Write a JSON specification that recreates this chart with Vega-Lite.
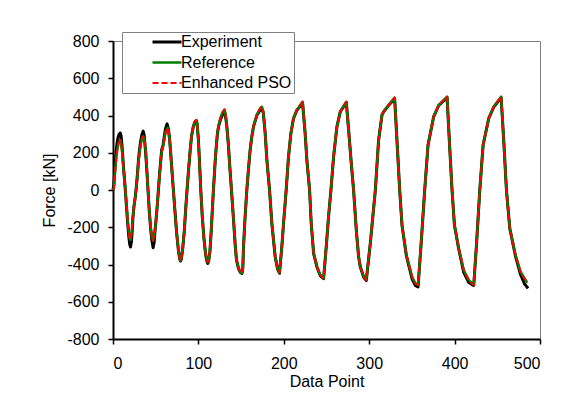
{
  "$schema": "https://vega.github.io/schema/vega-lite/v6.json",
  "width": 427,
  "height": 298,
  "autosize": {"type": "none"},
  "padding": {"left": 113, "top": 41, "right": 36, "bottom": 73},
  "background": "white",
  "config": {
    "view": {"stroke": "#808080", "strokeWidth": 1},
    "axis": {
      "labelFont": "Liberation Sans", "titleFont": "Liberation Sans",
      "labelFontSize": 16, "titleFontSize": 16,
      "labelColor": "black", "titleColor": "black", "titleFontWeight": "normal",
      "domainColor": "black", "domainWidth": 2,
      "tickColor": "black", "tickWidth": 1.5, "tickSize": 5, "grid": false
    },
    "legend": {
      "labelFont": "Liberation Sans", "labelFontSize": 16, "labelColor": "black"
    }
  },
  "data": {"values": [
    {"s":"Experiment","x":0,"y":0},{"s":"Experiment","x":1,"y":30},{"s":"Experiment","x":2,"y":100},{"s":"Experiment","x":3,"y":170},{"s":"Experiment","x":4,"y":220},{"s":"Experiment","x":5,"y":258},{"s":"Experiment","x":6,"y":283},{"s":"Experiment","x":7,"y":298},{"s":"Experiment","x":8.5,"y":306},{"s":"Experiment","x":9.5,"y":290},{"s":"Experiment","x":10.5,"y":240},{"s":"Experiment","x":11.5,"y":175},{"s":"Experiment","x":12.5,"y":110},{"s":"Experiment","x":13.5,"y":55},{"s":"Experiment","x":14.5,"y":-5},{"s":"Experiment","x":15.5,"y":-70},{"s":"Experiment","x":16.5,"y":-135},{"s":"Experiment","x":17.5,"y":-195},{"s":"Experiment","x":18.5,"y":-250},{"s":"Experiment","x":19.5,"y":-290},{"s":"Experiment","x":20.5,"y":-306},{"s":"Experiment","x":21.5,"y":-280},{"s":"Experiment","x":22.5,"y":-220},{"s":"Experiment","x":23.3,"y":-150},{"s":"Experiment","x":24.5,"y":-90},{"s":"Experiment","x":26,"y":-40},{"s":"Experiment","x":27.3,"y":15},{"s":"Experiment","x":28.5,"y":80},{"s":"Experiment","x":30,"y":170},{"s":"Experiment","x":31.3,"y":225},{"s":"Experiment","x":32.5,"y":265},{"s":"Experiment","x":34,"y":300},{"s":"Experiment","x":35.3,"y":316},{"s":"Experiment","x":36.5,"y":295},{"s":"Experiment","x":38,"y":215},{"s":"Experiment","x":40,"y":80},{"s":"Experiment","x":41,"y":0},{"s":"Experiment","x":42.5,"y":-115},{"s":"Experiment","x":44,"y":-205},{"s":"Experiment","x":45.5,"y":-270},{"s":"Experiment","x":47,"y":-310},{"s":"Experiment","x":48.2,"y":-280},{"s":"Experiment","x":49,"y":-230},{"s":"Experiment","x":50,"y":-180},{"s":"Experiment","x":51.2,"y":-120},{"s":"Experiment","x":52.3,"y":-54},{"s":"Experiment","x":54.5,"y":85},{"s":"Experiment","x":57,"y":215},{"s":"Experiment","x":58.6,"y":240},{"s":"Experiment","x":60,"y":285},{"s":"Experiment","x":61.5,"y":330},{"s":"Experiment","x":63.3,"y":355},{"s":"Experiment","x":65,"y":325},{"s":"Experiment","x":66.5,"y":262},{"s":"Experiment","x":68,"y":170},{"s":"Experiment","x":69.5,"y":75},{"s":"Experiment","x":70.7,"y":0},{"s":"Experiment","x":72.5,"y":-110},{"s":"Experiment","x":74.5,"y":-230},{"s":"Experiment","x":76.5,"y":-320},{"s":"Experiment","x":78,"y":-368},{"s":"Experiment","x":79,"y":-381},{"s":"Experiment","x":80,"y":-372},{"s":"Experiment","x":81.5,"y":-320},{"s":"Experiment","x":83.5,"y":-220},{"s":"Experiment","x":85,"y":-110},{"s":"Experiment","x":86.7,"y":0},{"s":"Experiment","x":88.5,"y":110},{"s":"Experiment","x":90.5,"y":220},{"s":"Experiment","x":92,"y":290},{"s":"Experiment","x":94,"y":340},{"s":"Experiment","x":96,"y":366},{"s":"Experiment","x":97.5,"y":372},{"s":"Experiment","x":98.5,"y":356},{"s":"Experiment","x":100,"y":270},{"s":"Experiment","x":101.5,"y":130},{"s":"Experiment","x":102.8,"y":0},{"s":"Experiment","x":104.5,"y":-140},{"s":"Experiment","x":106.5,"y":-260},{"s":"Experiment","x":108.5,"y":-348},{"s":"Experiment","x":110,"y":-383},{"s":"Experiment","x":111,"y":-394},{"s":"Experiment","x":112,"y":-382},{"s":"Experiment","x":113.5,"y":-330},{"s":"Experiment","x":115,"y":-220},{"s":"Experiment","x":117.6,"y":0},{"s":"Experiment","x":120,"y":180},{"s":"Experiment","x":122,"y":290},{"s":"Experiment","x":123.5,"y":340},{"s":"Experiment","x":126,"y":380},{"s":"Experiment","x":128,"y":402},{"s":"Experiment","x":130.5,"y":418},{"s":"Experiment","x":131.5,"y":405},{"s":"Experiment","x":133,"y":355},{"s":"Experiment","x":135,"y":250},{"s":"Experiment","x":137,"y":110},{"s":"Experiment","x":138.7,"y":0},{"s":"Experiment","x":141,"y":-150},{"s":"Experiment","x":143,"y":-290},{"s":"Experiment","x":144.6,"y":-376},{"s":"Experiment","x":147,"y":-422},{"s":"Experiment","x":149,"y":-442},{"s":"Experiment","x":151,"y":-448},{"s":"Experiment","x":152,"y":-420},{"s":"Experiment","x":152.8,"y":-304},{"s":"Experiment","x":154.7,"y":-143},{"s":"Experiment","x":156.7,"y":0},{"s":"Experiment","x":158.6,"y":110},{"s":"Experiment","x":160.6,"y":215},{"s":"Experiment","x":162.5,"y":285},{"s":"Experiment","x":164.5,"y":340},{"s":"Experiment","x":168.4,"y":400},{"s":"Experiment","x":172.3,"y":430},{"s":"Experiment","x":174.3,"y":438},{"s":"Experiment","x":176,"y":415},{"s":"Experiment","x":178.2,"y":304},{"s":"Experiment","x":180.2,"y":161},{"s":"Experiment","x":183.3,"y":0},{"s":"Experiment","x":186,"y":-179},{"s":"Experiment","x":189.9,"y":-358},{"s":"Experiment","x":192.6,"y":-422},{"s":"Experiment","x":195,"y":-447},{"s":"Experiment","x":197.7,"y":-304},{"s":"Experiment","x":199.7,"y":-179},{"s":"Experiment","x":202.8,"y":0},{"s":"Experiment","x":205.5,"y":179},{"s":"Experiment","x":208.3,"y":304},{"s":"Experiment","x":211.4,"y":385},{"s":"Experiment","x":215.3,"y":428},{"s":"Experiment","x":222,"y":466},{"s":"Experiment","x":225,"y":304},{"s":"Experiment","x":227,"y":161},{"s":"Experiment","x":230.2,"y":0},{"s":"Experiment","x":232.1,"y":-179},{"s":"Experiment","x":234.9,"y":-340},{"s":"Experiment","x":238.8,"y":-413},{"s":"Experiment","x":242.7,"y":-460},{"s":"Experiment","x":246.6,"y":-476},{"s":"Experiment","x":249.7,"y":-304},{"s":"Experiment","x":252.4,"y":-143},{"s":"Experiment","x":255.2,"y":0},{"s":"Experiment","x":258.3,"y":179},{"s":"Experiment","x":262.2,"y":340},{"s":"Experiment","x":266.1,"y":420},{"s":"Experiment","x":273.2,"y":470},{"s":"Experiment","x":275.9,"y":322},{"s":"Experiment","x":278.7,"y":161},{"s":"Experiment","x":281.7,"y":0},{"s":"Experiment","x":284.9,"y":-215},{"s":"Experiment","x":287.6,"y":-358},{"s":"Experiment","x":289.6,"y":-413},{"s":"Experiment","x":293.5,"y":-468},{"s":"Experiment","x":296.6,"y":-486},{"s":"Experiment","x":301.3,"y":-286},{"s":"Experiment","x":307.2,"y":0},{"s":"Experiment","x":311,"y":268},{"s":"Experiment","x":315,"y":403},{"s":"Experiment","x":316.9,"y":420},{"s":"Experiment","x":322.7,"y":454},{"s":"Experiment","x":329.8,"y":490},{"s":"Experiment","x":332.6,"y":260},{"s":"Experiment","x":335.7,"y":0},{"s":"Experiment","x":338.4,"y":-188},{"s":"Experiment","x":343.5,"y":-352},{"s":"Experiment","x":350.2,"y":-477},{"s":"Experiment","x":354,"y":-512},{"s":"Experiment","x":357.2,"y":-521},{"s":"Experiment","x":360.7,"y":-295},{"s":"Experiment","x":365,"y":0},{"s":"Experiment","x":368.9,"y":242},{"s":"Experiment","x":375.5,"y":394},{"s":"Experiment","x":381.4,"y":454},{"s":"Experiment","x":391.2,"y":496},{"s":"Experiment","x":393.9,"y":260},{"s":"Experiment","x":397,"y":0},{"s":"Experiment","x":399.8,"y":-188},{"s":"Experiment","x":404.8,"y":-316},{"s":"Experiment","x":410.7,"y":-442},{"s":"Experiment","x":416.5,"y":-496},{"s":"Experiment","x":422.4,"y":-513},{"s":"Experiment","x":425.6,"y":-295},{"s":"Experiment","x":429.5,"y":0},{"s":"Experiment","x":433.4,"y":242},{"s":"Experiment","x":440,"y":385},{"s":"Experiment","x":445.8,"y":445},{"s":"Experiment","x":454.5,"y":496},{"s":"Experiment","x":457.6,"y":260},{"s":"Experiment","x":460.7,"y":0},{"s":"Experiment","x":464.6,"y":-206},{"s":"Experiment","x":471.3,"y":-355},{"s":"Experiment","x":477.1,"y":-452},{"s":"Experiment","x":482,"y":-505},{"s":"Experiment","x":486,"y":-528},

    {"s":"Reference","x":0,"y":0},{"s":"Reference","x":1,"y":10},{"s":"Reference","x":2,"y":70},{"s":"Reference","x":3,"y":130},{"s":"Reference","x":4,"y":180},{"s":"Reference","x":5,"y":215},{"s":"Reference","x":6,"y":240},{"s":"Reference","x":7,"y":258},{"s":"Reference","x":8.5,"y":268},{"s":"Reference","x":9.5,"y":255},{"s":"Reference","x":10.5,"y":215},{"s":"Reference","x":11.5,"y":160},{"s":"Reference","x":12.5,"y":105},{"s":"Reference","x":13.5,"y":55},{"s":"Reference","x":14.5,"y":0},{"s":"Reference","x":15.5,"y":-60},{"s":"Reference","x":16.5,"y":-120},{"s":"Reference","x":17.5,"y":-175},{"s":"Reference","x":18.5,"y":-225},{"s":"Reference","x":19.5,"y":-258},{"s":"Reference","x":20.5,"y":-268},{"s":"Reference","x":22,"y":-225},{"s":"Reference","x":23.3,"y":-150},{"s":"Reference","x":24.5,"y":-90},{"s":"Reference","x":26,"y":-40},{"s":"Reference","x":27.3,"y":10},{"s":"Reference","x":28.5,"y":70},{"s":"Reference","x":30,"y":160},{"s":"Reference","x":31.3,"y":210},{"s":"Reference","x":32.5,"y":245},{"s":"Reference","x":34,"y":278},{"s":"Reference","x":35.5,"y":288},{"s":"Reference","x":37,"y":265},{"s":"Reference","x":38.5,"y":200},{"s":"Reference","x":40,"y":80},{"s":"Reference","x":41,"y":0},{"s":"Reference","x":42.5,"y":-110},{"s":"Reference","x":44,"y":-195},{"s":"Reference","x":45.5,"y":-250},{"s":"Reference","x":47,"y":-272},{"s":"Reference","x":48.5,"y":-240},{"s":"Reference","x":50,"y":-180},{"s":"Reference","x":51.2,"y":-120},{"s":"Reference","x":52.3,"y":-54},{"s":"Reference","x":54.5,"y":80},{"s":"Reference","x":57,"y":205},{"s":"Reference","x":58.6,"y":235},{"s":"Reference","x":60,"y":270},{"s":"Reference","x":61.5,"y":310},{"s":"Reference","x":64,"y":335},{"s":"Reference","x":65,"y":320},{"s":"Reference","x":66.5,"y":260},{"s":"Reference","x":68,"y":170},{"s":"Reference","x":69.5,"y":75},{"s":"Reference","x":70.7,"y":0},{"s":"Reference","x":72.5,"y":-110},{"s":"Reference","x":74.5,"y":-230},{"s":"Reference","x":76.5,"y":-320},{"s":"Reference","x":78,"y":-365},{"s":"Reference","x":79,"y":-378},{"s":"Reference","x":80,"y":-370},{"s":"Reference","x":81.5,"y":-320},{"s":"Reference","x":83.5,"y":-220},{"s":"Reference","x":85,"y":-110},{"s":"Reference","x":86.7,"y":0},{"s":"Reference","x":88.5,"y":110},{"s":"Reference","x":90.5,"y":220},{"s":"Reference","x":92,"y":290},{"s":"Reference","x":94,"y":340},{"s":"Reference","x":96,"y":368},{"s":"Reference","x":97.5,"y":376},{"s":"Reference","x":98.5,"y":360},{"s":"Reference","x":100,"y":270},{"s":"Reference","x":101.5,"y":130},{"s":"Reference","x":102.8,"y":0},{"s":"Reference","x":104.5,"y":-140},{"s":"Reference","x":106.5,"y":-260},{"s":"Reference","x":108.5,"y":-345},{"s":"Reference","x":110,"y":-378},{"s":"Reference","x":111,"y":-388},{"s":"Reference","x":112,"y":-380},{"s":"Reference","x":113.5,"y":-330},{"s":"Reference","x":115,"y":-220},{"s":"Reference","x":117.6,"y":0},{"s":"Reference","x":120,"y":180},{"s":"Reference","x":122,"y":290},{"s":"Reference","x":123.5,"y":345},{"s":"Reference","x":126,"y":390},{"s":"Reference","x":128,"y":415},{"s":"Reference","x":130.5,"y":432},{"s":"Reference","x":131.5,"y":415},{"s":"Reference","x":133,"y":360},{"s":"Reference","x":135,"y":250},{"s":"Reference","x":137,"y":110},{"s":"Reference","x":138.7,"y":0},{"s":"Reference","x":141,"y":-150},{"s":"Reference","x":143,"y":-290},{"s":"Reference","x":144.6,"y":-376},{"s":"Reference","x":147,"y":-420},{"s":"Reference","x":149,"y":-440},{"s":"Reference","x":151,"y":-447},{"s":"Reference","x":152,"y":-420},{"s":"Reference","x":152.8,"y":-304},{"s":"Reference","x":154.7,"y":-143},{"s":"Reference","x":156.7,"y":0},{"s":"Reference","x":158.6,"y":110},{"s":"Reference","x":160.6,"y":215},{"s":"Reference","x":162.5,"y":285},{"s":"Reference","x":164.5,"y":340},{"s":"Reference","x":168.4,"y":403},{"s":"Reference","x":172.3,"y":438},{"s":"Reference","x":174.3,"y":447},{"s":"Reference","x":176,"y":420},{"s":"Reference","x":178.2,"y":304},{"s":"Reference","x":180.2,"y":161},{"s":"Reference","x":183.3,"y":0},{"s":"Reference","x":186,"y":-179},{"s":"Reference","x":189.9,"y":-358},{"s":"Reference","x":192.6,"y":-420},{"s":"Reference","x":195,"y":-444},{"s":"Reference","x":197.7,"y":-304},{"s":"Reference","x":199.7,"y":-179},{"s":"Reference","x":202.8,"y":0},{"s":"Reference","x":205.5,"y":179},{"s":"Reference","x":208.3,"y":304},{"s":"Reference","x":211.4,"y":385},{"s":"Reference","x":215.3,"y":430},{"s":"Reference","x":222,"y":474},{"s":"Reference","x":225,"y":304},{"s":"Reference","x":227,"y":161},{"s":"Reference","x":230.2,"y":0},{"s":"Reference","x":232.1,"y":-179},{"s":"Reference","x":234.9,"y":-340},{"s":"Reference","x":238.8,"y":-411},{"s":"Reference","x":242.7,"y":-456},{"s":"Reference","x":246.6,"y":-474},{"s":"Reference","x":249.7,"y":-304},{"s":"Reference","x":252.4,"y":-143},{"s":"Reference","x":255.2,"y":0},{"s":"Reference","x":258.3,"y":179},{"s":"Reference","x":262.2,"y":340},{"s":"Reference","x":266.1,"y":420},{"s":"Reference","x":273.2,"y":474},{"s":"Reference","x":275.9,"y":322},{"s":"Reference","x":278.7,"y":161},{"s":"Reference","x":281.7,"y":0},{"s":"Reference","x":284.9,"y":-215},{"s":"Reference","x":287.6,"y":-358},{"s":"Reference","x":289.6,"y":-411},{"s":"Reference","x":293.5,"y":-465},{"s":"Reference","x":296.6,"y":-483},{"s":"Reference","x":301.3,"y":-286},{"s":"Reference","x":307.2,"y":0},{"s":"Reference","x":311,"y":268},{"s":"Reference","x":315,"y":403},{"s":"Reference","x":316.9,"y":420},{"s":"Reference","x":322.7,"y":456},{"s":"Reference","x":329.8,"y":496},{"s":"Reference","x":332.6,"y":260},{"s":"Reference","x":335.7,"y":0},{"s":"Reference","x":338.4,"y":-188},{"s":"Reference","x":343.5,"y":-349},{"s":"Reference","x":350.2,"y":-465},{"s":"Reference","x":354,"y":-501},{"s":"Reference","x":357.2,"y":-510},{"s":"Reference","x":360.7,"y":-295},{"s":"Reference","x":365,"y":0},{"s":"Reference","x":368.9,"y":242},{"s":"Reference","x":375.5,"y":394},{"s":"Reference","x":381.4,"y":456},{"s":"Reference","x":391.2,"y":501},{"s":"Reference","x":393.9,"y":260},{"s":"Reference","x":397,"y":0},{"s":"Reference","x":399.8,"y":-188},{"s":"Reference","x":404.8,"y":-313},{"s":"Reference","x":410.7,"y":-430},{"s":"Reference","x":416.5,"y":-483},{"s":"Reference","x":422.4,"y":-510},{"s":"Reference","x":425.6,"y":-295},{"s":"Reference","x":429.5,"y":0},{"s":"Reference","x":433.4,"y":242},{"s":"Reference","x":440,"y":385},{"s":"Reference","x":445.8,"y":447},{"s":"Reference","x":454.5,"y":501},{"s":"Reference","x":457.6,"y":260},{"s":"Reference","x":460.7,"y":0},{"s":"Reference","x":464.6,"y":-206},{"s":"Reference","x":471.3,"y":-349},{"s":"Reference","x":477.1,"y":-438},{"s":"Reference","x":485,"y":-497},

    {"s":"Enhanced PSO","x":0,"y":0},{"s":"Enhanced PSO","x":1,"y":10},{"s":"Enhanced PSO","x":2,"y":70},{"s":"Enhanced PSO","x":3,"y":130},{"s":"Enhanced PSO","x":4,"y":180},{"s":"Enhanced PSO","x":5,"y":215},{"s":"Enhanced PSO","x":6,"y":240},{"s":"Enhanced PSO","x":7,"y":258},{"s":"Enhanced PSO","x":8.5,"y":268},{"s":"Enhanced PSO","x":9.5,"y":255},{"s":"Enhanced PSO","x":10.5,"y":215},{"s":"Enhanced PSO","x":11.5,"y":160},{"s":"Enhanced PSO","x":12.5,"y":105},{"s":"Enhanced PSO","x":13.5,"y":55},{"s":"Enhanced PSO","x":14.5,"y":0},{"s":"Enhanced PSO","x":15.5,"y":-60},{"s":"Enhanced PSO","x":16.5,"y":-120},{"s":"Enhanced PSO","x":17.5,"y":-175},{"s":"Enhanced PSO","x":18.5,"y":-225},{"s":"Enhanced PSO","x":19.5,"y":-258},{"s":"Enhanced PSO","x":20.5,"y":-268},{"s":"Enhanced PSO","x":22,"y":-225},{"s":"Enhanced PSO","x":23.3,"y":-150},{"s":"Enhanced PSO","x":24.5,"y":-90},{"s":"Enhanced PSO","x":26,"y":-40},{"s":"Enhanced PSO","x":27.3,"y":10},{"s":"Enhanced PSO","x":28.5,"y":70},{"s":"Enhanced PSO","x":30,"y":160},{"s":"Enhanced PSO","x":31.3,"y":210},{"s":"Enhanced PSO","x":32.5,"y":245},{"s":"Enhanced PSO","x":34,"y":278},{"s":"Enhanced PSO","x":35.5,"y":288},{"s":"Enhanced PSO","x":37,"y":265},{"s":"Enhanced PSO","x":38.5,"y":200},{"s":"Enhanced PSO","x":40,"y":80},{"s":"Enhanced PSO","x":41,"y":0},{"s":"Enhanced PSO","x":42.5,"y":-110},{"s":"Enhanced PSO","x":44,"y":-195},{"s":"Enhanced PSO","x":45.5,"y":-250},{"s":"Enhanced PSO","x":47,"y":-272},{"s":"Enhanced PSO","x":48.5,"y":-240},{"s":"Enhanced PSO","x":50,"y":-180},{"s":"Enhanced PSO","x":51.2,"y":-120},{"s":"Enhanced PSO","x":52.3,"y":-54},{"s":"Enhanced PSO","x":54.5,"y":80},{"s":"Enhanced PSO","x":57,"y":205},{"s":"Enhanced PSO","x":58.6,"y":235},{"s":"Enhanced PSO","x":60,"y":270},{"s":"Enhanced PSO","x":61.5,"y":310},{"s":"Enhanced PSO","x":64,"y":335},{"s":"Enhanced PSO","x":65,"y":320},{"s":"Enhanced PSO","x":66.5,"y":260},{"s":"Enhanced PSO","x":68,"y":170},{"s":"Enhanced PSO","x":69.5,"y":75},{"s":"Enhanced PSO","x":70.7,"y":0},{"s":"Enhanced PSO","x":72.5,"y":-110},{"s":"Enhanced PSO","x":74.5,"y":-230},{"s":"Enhanced PSO","x":76.5,"y":-320},{"s":"Enhanced PSO","x":78,"y":-365},{"s":"Enhanced PSO","x":79,"y":-378},{"s":"Enhanced PSO","x":80,"y":-370},{"s":"Enhanced PSO","x":81.5,"y":-320},{"s":"Enhanced PSO","x":83.5,"y":-220},{"s":"Enhanced PSO","x":85,"y":-110},{"s":"Enhanced PSO","x":86.7,"y":0},{"s":"Enhanced PSO","x":88.5,"y":110},{"s":"Enhanced PSO","x":90.5,"y":220},{"s":"Enhanced PSO","x":92,"y":290},{"s":"Enhanced PSO","x":94,"y":340},{"s":"Enhanced PSO","x":96,"y":368},{"s":"Enhanced PSO","x":97.5,"y":376},{"s":"Enhanced PSO","x":98.5,"y":360},{"s":"Enhanced PSO","x":100,"y":270},{"s":"Enhanced PSO","x":101.5,"y":130},{"s":"Enhanced PSO","x":102.8,"y":0},{"s":"Enhanced PSO","x":104.5,"y":-140},{"s":"Enhanced PSO","x":106.5,"y":-260},{"s":"Enhanced PSO","x":108.5,"y":-345},{"s":"Enhanced PSO","x":110,"y":-378},{"s":"Enhanced PSO","x":111,"y":-388},{"s":"Enhanced PSO","x":112,"y":-380},{"s":"Enhanced PSO","x":113.5,"y":-330},{"s":"Enhanced PSO","x":115,"y":-220},{"s":"Enhanced PSO","x":117.6,"y":0},{"s":"Enhanced PSO","x":120,"y":180},{"s":"Enhanced PSO","x":122,"y":290},{"s":"Enhanced PSO","x":123.5,"y":345},{"s":"Enhanced PSO","x":126,"y":390},{"s":"Enhanced PSO","x":128,"y":415},{"s":"Enhanced PSO","x":130.5,"y":432},{"s":"Enhanced PSO","x":131.5,"y":415},{"s":"Enhanced PSO","x":133,"y":360},{"s":"Enhanced PSO","x":135,"y":250},{"s":"Enhanced PSO","x":137,"y":110},{"s":"Enhanced PSO","x":138.7,"y":0},{"s":"Enhanced PSO","x":141,"y":-150},{"s":"Enhanced PSO","x":143,"y":-290},{"s":"Enhanced PSO","x":144.6,"y":-376},{"s":"Enhanced PSO","x":147,"y":-420},{"s":"Enhanced PSO","x":149,"y":-440},{"s":"Enhanced PSO","x":151,"y":-447},{"s":"Enhanced PSO","x":152,"y":-420},{"s":"Enhanced PSO","x":152.8,"y":-304},{"s":"Enhanced PSO","x":154.7,"y":-143},{"s":"Enhanced PSO","x":156.7,"y":0},{"s":"Enhanced PSO","x":158.6,"y":110},{"s":"Enhanced PSO","x":160.6,"y":215},{"s":"Enhanced PSO","x":162.5,"y":285},{"s":"Enhanced PSO","x":164.5,"y":340},{"s":"Enhanced PSO","x":168.4,"y":403},{"s":"Enhanced PSO","x":172.3,"y":438},{"s":"Enhanced PSO","x":174.3,"y":447},{"s":"Enhanced PSO","x":176,"y":420},{"s":"Enhanced PSO","x":178.2,"y":304},{"s":"Enhanced PSO","x":180.2,"y":161},{"s":"Enhanced PSO","x":183.3,"y":0},{"s":"Enhanced PSO","x":186,"y":-179},{"s":"Enhanced PSO","x":189.9,"y":-358},{"s":"Enhanced PSO","x":192.6,"y":-420},{"s":"Enhanced PSO","x":195,"y":-444},{"s":"Enhanced PSO","x":197.7,"y":-304},{"s":"Enhanced PSO","x":199.7,"y":-179},{"s":"Enhanced PSO","x":202.8,"y":0},{"s":"Enhanced PSO","x":205.5,"y":179},{"s":"Enhanced PSO","x":208.3,"y":304},{"s":"Enhanced PSO","x":211.4,"y":385},{"s":"Enhanced PSO","x":215.3,"y":430},{"s":"Enhanced PSO","x":222,"y":474},{"s":"Enhanced PSO","x":225,"y":304},{"s":"Enhanced PSO","x":227,"y":161},{"s":"Enhanced PSO","x":230.2,"y":0},{"s":"Enhanced PSO","x":232.1,"y":-179},{"s":"Enhanced PSO","x":234.9,"y":-340},{"s":"Enhanced PSO","x":238.8,"y":-411},{"s":"Enhanced PSO","x":242.7,"y":-456},{"s":"Enhanced PSO","x":246.6,"y":-474},{"s":"Enhanced PSO","x":249.7,"y":-304},{"s":"Enhanced PSO","x":252.4,"y":-143},{"s":"Enhanced PSO","x":255.2,"y":0},{"s":"Enhanced PSO","x":258.3,"y":179},{"s":"Enhanced PSO","x":262.2,"y":340},{"s":"Enhanced PSO","x":266.1,"y":420},{"s":"Enhanced PSO","x":273.2,"y":474},{"s":"Enhanced PSO","x":275.9,"y":322},{"s":"Enhanced PSO","x":278.7,"y":161},{"s":"Enhanced PSO","x":281.7,"y":0},{"s":"Enhanced PSO","x":284.9,"y":-215},{"s":"Enhanced PSO","x":287.6,"y":-358},{"s":"Enhanced PSO","x":289.6,"y":-411},{"s":"Enhanced PSO","x":293.5,"y":-465},{"s":"Enhanced PSO","x":296.6,"y":-483},{"s":"Enhanced PSO","x":301.3,"y":-286},{"s":"Enhanced PSO","x":307.2,"y":0},{"s":"Enhanced PSO","x":311,"y":268},{"s":"Enhanced PSO","x":315,"y":403},{"s":"Enhanced PSO","x":316.9,"y":420},{"s":"Enhanced PSO","x":322.7,"y":456},{"s":"Enhanced PSO","x":329.8,"y":496},{"s":"Enhanced PSO","x":332.6,"y":260},{"s":"Enhanced PSO","x":335.7,"y":0},{"s":"Enhanced PSO","x":338.4,"y":-188},{"s":"Enhanced PSO","x":343.5,"y":-349},{"s":"Enhanced PSO","x":350.2,"y":-465},{"s":"Enhanced PSO","x":354,"y":-501},{"s":"Enhanced PSO","x":357.2,"y":-510},{"s":"Enhanced PSO","x":360.7,"y":-295},{"s":"Enhanced PSO","x":365,"y":0},{"s":"Enhanced PSO","x":368.9,"y":242},{"s":"Enhanced PSO","x":375.5,"y":394},{"s":"Enhanced PSO","x":381.4,"y":456},{"s":"Enhanced PSO","x":391.2,"y":501},{"s":"Enhanced PSO","x":393.9,"y":260},{"s":"Enhanced PSO","x":397,"y":0},{"s":"Enhanced PSO","x":399.8,"y":-188},{"s":"Enhanced PSO","x":404.8,"y":-313},{"s":"Enhanced PSO","x":410.7,"y":-430},{"s":"Enhanced PSO","x":416.5,"y":-483},{"s":"Enhanced PSO","x":422.4,"y":-510},{"s":"Enhanced PSO","x":425.6,"y":-295},{"s":"Enhanced PSO","x":429.5,"y":0},{"s":"Enhanced PSO","x":433.4,"y":242},{"s":"Enhanced PSO","x":440,"y":385},{"s":"Enhanced PSO","x":445.8,"y":447},{"s":"Enhanced PSO","x":454.5,"y":501},{"s":"Enhanced PSO","x":457.6,"y":260},{"s":"Enhanced PSO","x":460.7,"y":0},{"s":"Enhanced PSO","x":464.6,"y":-206},{"s":"Enhanced PSO","x":471.3,"y":-349},{"s":"Enhanced PSO","x":477.1,"y":-438},{"s":"Enhanced PSO","x":485,"y":-502}
  ]},
  "encoding": {
    "x": {"field": "x", "type": "quantitative", "title": "Data Point",
      "scale": {"domain": [0, 500], "nice": false},
      "axis": {"values": [0, 100, 200, 300, 400, 500], "labelPadding": 11, "titlePadding": 2}},
    "y": {"field": "y", "type": "quantitative", "title": "Force [kN]",
      "scale": {"domain": [-800, 800], "nice": false},
      "axis": {"values": [-800, -600, -400, -200, 0, 200, 400, 600, 800], "labelExpr": "'' + datum.value", "labelPadding": 9, "titlePadding": 9}},
    "color": {"field": "s", "type": "nominal",
      "scale": {"domain": ["Experiment", "Reference", "Enhanced PSO"], "range": ["#000000", "#008000", "#ff0000"]},
      "legend": {"title": "", "titleOrient": "right", "titlePadding": 28, "orient": "none", "legendX": 9, "legendY": -9,
        "symbolType": "stroke", "symbolSize": 841, "symbolOffset": 27, "labelOffset": -2,
        "clipHeight": 16, "padding": 2, "rowPadding": 4.5, "strokeColor": "#808080", "fillColor": "white",
        "labelFontSize": 16, "labelFont": "Liberation Sans", "labelColor": "black"}},
    "strokeWidth": {"field": "s", "type": "nominal",
      "scale": {"domain": ["Experiment", "Reference", "Enhanced PSO"], "range": [3, 2, 2.5]}},
    "strokeDash": {"field": "s", "type": "nominal",
      "scale": {"domain": ["Experiment", "Reference", "Enhanced PSO"], "range": [[1, 0], [1, 0], [6, 3]]}},
    "order": {"field": "x", "type": "quantitative"}
  },
  "layer": [
    {"transform": [{"filter": {"field": "s", "equal": "Experiment"}}], "mark": {"type": "line", "strokeJoin": "round"}},
    {"transform": [{"filter": {"field": "s", "equal": "Reference"}}], "mark": {"type": "line", "strokeJoin": "round"}},
    {"transform": [{"filter": {"field": "s", "equal": "Enhanced PSO"}}], "mark": {"type": "line", "strokeJoin": "round"}}
  ]
}
